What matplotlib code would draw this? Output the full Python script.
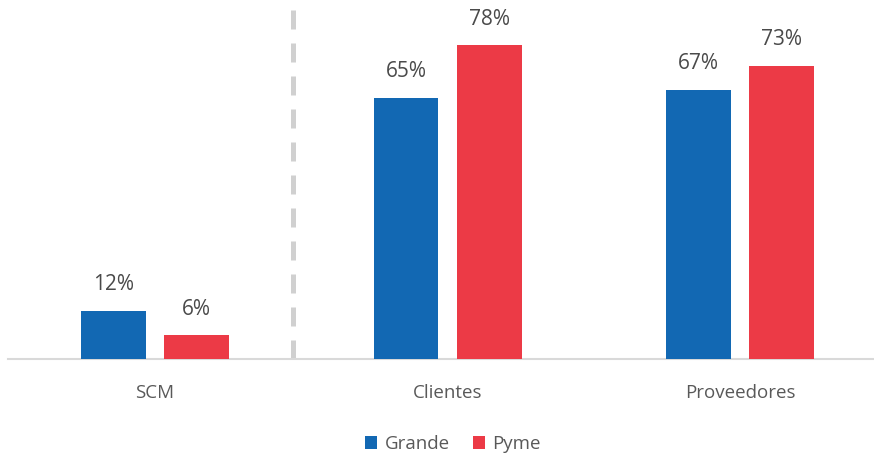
import matplotlib.pyplot as plt
import numpy as np

plt.rcParams['font.family'] = ['Open Sans', 'DejaVu Sans']

categorias = ['SCM', 'Clientes', 'Proveedores']
grande = [12, 65, 67]
pyme = [6, 78, 73]

azul = '#1268b3'
rojo = '#ec3a46'

fig = plt.figure(figsize=(8.74, 4.55), dpi=100)
ax = fig.add_axes([8 / 874, 1 - 359 / 455, 1 - 8 / 874, 359 / 455])

x = np.arange(len(categorias))
ancho = 0.222
desp = 0.142

b1 = ax.bar(x - desp, grande, ancho, color=azul, label='Grande', zorder=3)
b2 = ax.bar(x + desp, pyme, ancho, color=rojo, label='Pyme', zorder=3)

for barras, valores in ((b1, grande), (b2, pyme)):
    for b, v in zip(barras, valores):
        ax.annotate(f'{v}%', (b.get_x() + b.get_width() / 2, v),
                    xytext=(0, 11), textcoords='offset points',
                    ha='center', va='bottom', fontsize=15, color='#4a4a4a')

# separador entre SCM y el resto
ax.plot([0.473, 0.473], [0, 87.3], color='#d0d0d0', lw=3.6,
        dashes=(3.8, 2.8), solid_capstyle='butt', zorder=1)

ax.set_xlim(-0.5026, 2.458)
ax.set_ylim(0, 89.3)
ax.set_xticks(x)
ax.set_xticklabels(categorias, fontsize=13.5, color='#595959')
ax.tick_params(axis='x', length=0, pad=18)
ax.set_yticks([])
for s in ['top', 'right', 'left']:
    ax.spines[s].set_visible(False)
ax.spines['bottom'].set_color('#d9d9d9')
ax.spines['bottom'].set_linewidth(1.5)

fig.legend(loc='center', bbox_to_anchor=(453 / 874, 1 - 444 / 455), ncol=2,
           frameon=False, fontsize=13.5, handlelength=0.65, handleheight=0.65,
           handletextpad=0.4, columnspacing=1.2, labelcolor='#595959')

fig.savefig('out.png', dpi=100)
